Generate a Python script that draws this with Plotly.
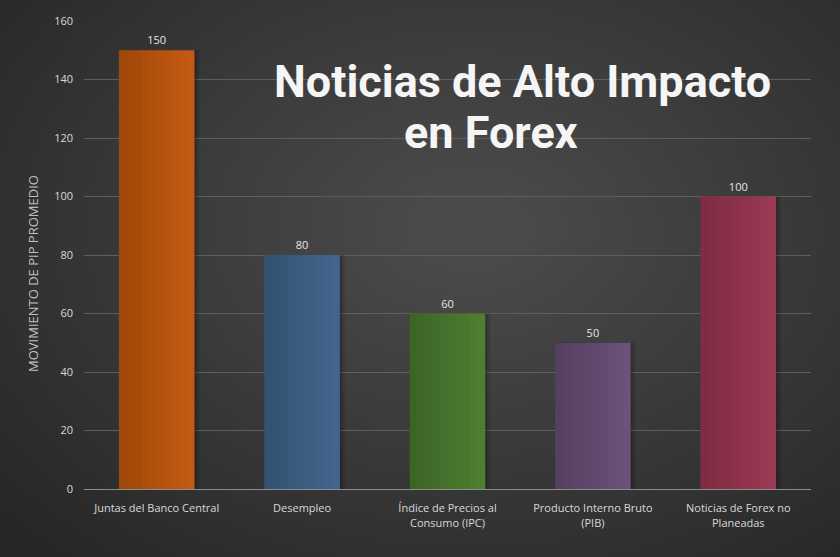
import plotly.graph_objects as go

categorias = [
    "Juntas del Banco Central",
    "Desempleo",
    "Índice de Precios al<br>Consumo (IPC)",
    "Producto Interno Bruto<br>(PIB)",
    "Noticias de Forex no<br>Planeadas",
]
movimiento_pips = [150, 80, 60, 50, 100]
colores = ["#c45a12", "#43658c", "#4e7f30", "#6a527a", "#9c3a55"]
titulo = ["Noticias de Alto Impacto", "en Forex"]
titulo_eje_y = "MOVIMIENTO DE PIP PROMEDIO"

W, H = 840, 557
ml, mr, mt, mb = 84, 29, 21, 68
pw, ph = W - ml - mr, H - mt - mb
ancho = 0.52


def px_to_paper(px, py):
    return (px - ml) / pw, (H - mb - py) / ph


fig = go.Figure()

# sombra suave a la derecha de cada barra
for desp, alfa in [(0.035, 0.08), (0.022, 0.1), (0.01, 0.12)]:
    fig.add_trace(go.Bar(
        x=categorias, y=movimiento_pips,
        marker=dict(color=f"rgba(0,0,0,{alfa})", line=dict(width=0)),
        width=ancho, offset=-ancho / 2 + desp, hoverinfo="skip",
    ))

fig.add_trace(go.Bar(
    x=categorias,
    y=movimiento_pips,
    marker=dict(color=colores, line=dict(width=0)),
    width=ancho, offset=-ancho / 2,
    text=movimiento_pips,
    textposition="outside",
    textfont=dict(color="#e6e6e6", size=11, family="Open Sans"),
    cliponaxis=False,
))

# degradado: más oscuro a la izquierda
pasos = 10
for k in range(1, pasos):
    w = ancho * (pasos - k) / pasos
    fig.add_trace(go.Bar(
        x=categorias, y=movimiento_pips,
        marker=dict(color="rgba(0,0,0,0.018)", line=dict(width=0)),
        width=w, offset=-ancho / 2, hoverinfo="skip",
    ))

# fondo con degradado radial aproximado
shapes = []
cx, cy = 470, 230
n = 36
for i in range(n):
    rx = 620 - i * 16
    ry = 440 - i * 11.5
    x0, y1 = px_to_paper(cx - rx, cy - ry)
    x1, y0 = px_to_paper(cx + rx, cy + ry)
    shapes.append(dict(
        type="circle", xref="paper", yref="paper",
        x0=x0, x1=x1, y0=y0, y1=y1,
        fillcolor="rgba(255,255,255,0.0085)", line=dict(width=0),
        layer="below",
    ))

tx1, ty1 = px_to_paper(522, 81)
tx2, ty2 = px_to_paper(491, 132)
yx, yy = px_to_paper(33, 274)

fig.update_layout(
    width=W, height=H,
    margin=dict(l=ml, r=mr, t=mt, b=mb),
    paper_bgcolor="#262626",
    plot_bgcolor="rgba(0,0,0,0)",
    shapes=shapes,
    showlegend=False,
    barmode="overlay",
    font=dict(family="Open Sans", color="#d9d9d9", size=11),
    xaxis=dict(
        showgrid=False, showline=True, linecolor="#8c8c8c", linewidth=1,
        ticks="", ticklabelstandoff=9, tickfont=dict(size=11, color="#d9d9d9"),
    ),
    yaxis=dict(
        range=[0, 160], dtick=20, showgrid=True, gridcolor="#5e5e5e",
        gridwidth=1, zeroline=False, ticks="", ticklabelstandoff=10,
        tickfont=dict(size=11, color="#d9d9d9"),
    ),
    annotations=[
        dict(text=titulo[0], xref="paper", yref="paper", x=tx1, y=ty1,
             xanchor="center", yanchor="middle", showarrow=False,
             font=dict(family="Roboto", size=45, color="#f5f5f5", weight="bold")),
        dict(text=titulo[1], xref="paper", yref="paper", x=tx2, y=ty2,
             xanchor="center", yanchor="middle", showarrow=False,
             font=dict(family="Roboto", size=45, color="#f5f5f5", weight="bold")),
        dict(text=titulo_eje_y, xref="paper", yref="paper", x=yx, y=yy,
             xanchor="center", yanchor="middle", showarrow=False, textangle=-90,
             font=dict(family="Open Sans", size=13, color="#bfbfbf")),
    ],
)

fig.write_html("out.html", config={"displayModeBar": False})

with open("out.html", encoding="utf-8") as f:
    html = f.read()
html = html.replace("<body>", '<body style="margin:0;overflow:hidden">', 1)
with open("out.html", "w", encoding="utf-8") as f:
    f.write(html)
